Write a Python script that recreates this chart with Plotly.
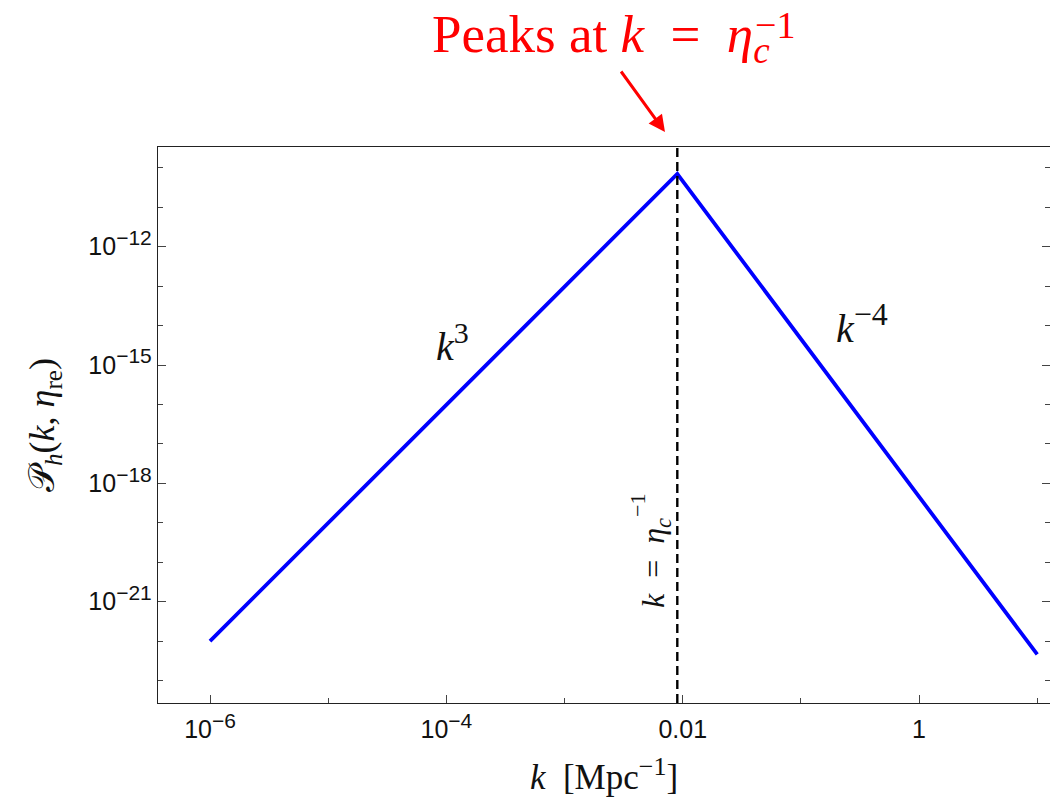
import plotly.graph_objects as go

# Tensor power spectrum: rising as k^3, peaking at k = 1/eta_c, falling as k^-4
k_vals = [1.0e-6, 9.0e-3, 10.0]
p_vals = [1.0e-22, 7.0e-11, 4.6e-23]
k_peak = 9.0e-3

SUP = "10<sup><span style='font-size:21px'>−%d</span></sup>"
x_tickvals = [1e-6, 1e-4, 1e-2, 1]
x_ticktext = [SUP % 6, SUP % 4, "0.01", "1"]
x_minor = [1e-5, 1e-3, 1e-1, 10]

y_tickvals = [1e-12, 1e-15, 1e-18, 1e-21]
y_ticktext = [SUP % e for e in (12, 15, 18, 21)]
y_minor = [10.0 ** e for e in range(-23, -9) if e % 3 != 0]

SERIF = "Liberation Serif, DejaVu Serif, serif"
SANS = "Liberation Sans, Arial, sans-serif"
EN = "\u2002"  # en space for math-style spacing around '='

fig = go.Figure()
fig.add_trace(go.Scatter(
    x=k_vals, y=p_vals, mode="lines",
    line=dict(color="#0000ff", width=3.8),
    showlegend=False, hoverinfo="skip",
))

# vertical marker at the peak scale
fig.add_shape(
    type="line", xref="x", yref="paper",
    x0=k_peak, x1=k_peak, y0=0, y1=1,
    line=dict(color="black", width=2.4, dash="9px,5px"),
)

axis_common = dict(
    type="log",
    showgrid=False, zeroline=False,
    showline=True, linecolor="#222", linewidth=1.4,
    ticks="inside", ticklen=8, tickwidth=1.2, tickcolor="#444",
    tickfont=dict(family=SANS, size=25, color="#111"),
)

fig.update_xaxes(
    **axis_common,
    range=[-6.44, 1.108],
    mirror=True,
    ticklabelstandoff=4,
    tickmode="array", tickvals=x_tickvals, ticktext=x_ticktext,
    minor=dict(tickmode="array", tickvals=x_minor, ticks="inside",
               ticklen=5, tickwidth=1.2, tickcolor="#444"),
    title=dict(text="<i>k</i>" + EN + "[Mpc<sup><span style='font-size:26px'>−1</span></sup>]",
               font=dict(family=SERIF, size=35, color="#111"), standoff=22),
)
fig.update_yaxes(
    **axis_common,
    range=[-23.568, -9.472],
    mirror="ticks",
    tickmode="array", tickvals=y_tickvals, ticktext=y_ticktext,
    minor=dict(tickmode="array", tickvals=y_minor, ticks="inside",
               ticklen=5, tickwidth=1.2, tickcolor="#444"),
    title=dict(text="𝒫<sub><i>h</i></sub>(<i>k</i>, <i>η</i><sub>re</sub>)",
               font=dict(family=SERIF, size=36, color="#111"), standoff=22),
)

annotations = [
    # slope labels
    dict(x=-3.944, y=-14.44, xref="x", yref="y",
         text="<i>k</i><sup><span style='font-size:30px'>3</span></sup>",
         showarrow=False, font=dict(family=SERIF, size=40, color="#111")),
    dict(x=-0.48, y=-13.94, xref="x", yref="y",
         text="<i>k</i><sup><span style='font-size:32px'>−4</span></sup>",
         showarrow=False, font=dict(family=SERIF, size=40, color="#111")),
    # rotated label beside the dashed line
    dict(x=(655 - 158) / 892, y=(703 - 563) / 556, xref="paper", yref="paper",
         xanchor="center", yanchor="middle",
         text="<i>k</i>" + EN + "=" + EN + "<i>η</i><sub><i>c</i></sub>",
         textangle=-90,
         showarrow=False, font=dict(family=SERIF, size=32, color="#111")),
    dict(x=(637 - 158) / 892, y=(703 - 506) / 556, xref="paper", yref="paper",
         xanchor="center", yanchor="middle",
         text="−1", textangle=-90,
         showarrow=False, font=dict(family=SERIF, size=22, color="#111")),
    # red headline with arrow
    dict(x=(430 - 158) / 892, y=(703 - 38) / 556, xref="paper", yref="paper",
         xanchor="left", yanchor="middle",
         text="Peaks at <i>k</i>" + EN + "=" + EN + "<i>η</i><sub><i>c</i></sub>",
         showarrow=False, font=dict(family=SERIF, size=53, color="#ff0000")),
    dict(x=(753 - 158) / 892, y=(703 - 25) / 556, xref="paper", yref="paper",
         xanchor="left", yanchor="middle", text="−1",
         showarrow=False, font=dict(family=SERIF, size=38, color="#ff0000")),
    dict(x=(665 - 158) / 892, y=(703 - 132) / 556, xref="paper", yref="paper",
         text="", showarrow=True, arrowhead=2, arrowsize=1.1, arrowwidth=3,
         arrowcolor="#ff0000", ax=-45, ay=-62, axref="pixel", ayref="pixel"),
]

fig.update_layout(
    width=1050, height=804, autosize=False,
    margin=dict(l=158, r=0, t=147, b=101),
    paper_bgcolor="white", plot_bgcolor="white",
    annotations=annotations,
)

fig.write_html("out.html")
